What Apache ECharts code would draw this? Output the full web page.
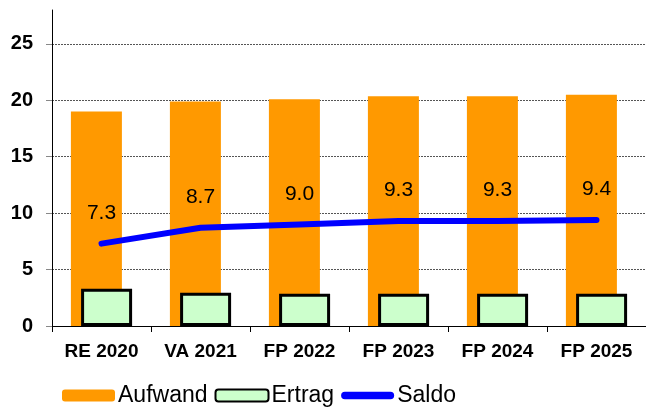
<!DOCTYPE html>
<html>
<head>
<meta charset="utf-8">
<script src="https://cdn.jsdelivr.net/npm/echarts@6/dist/echarts.min.js"></script>
<style>
  html, body { margin: 0; padding: 0; background: #fff; }
  #chart { width: 646px; height: 412px; }
</style>
</head>
<body>
<div id="chart"></div>
<script>
// --- data ---
const categories = ['RE 2020', 'VA 2021', 'FP 2022', 'FP 2023', 'FP 2024', 'FP 2025'];
const aufwand = [19.0, 19.9, 20.1, 20.35, 20.35, 20.5];
const ertrag = [3.3, 2.95, 2.85, 2.85, 2.85, 2.85];
const saldo = [7.3, 8.7, 9.0, 9.3, 9.3, 9.4];

const FONT = 'Arial, "Liberation Sans", sans-serif';
// rounded thick line for the Saldo legend entry
const LINE_ICON = 'path://M4,0 L53,0 A4,4 0 0 1 53,8 L4,8 A4,4 0 0 1 4,0 Z';

const chart = echarts.init(document.getElementById('chart'), null, { renderer: 'canvas' });

chart.setOption({
  backgroundColor: '#fff',
  animation: false,
  grid: { left: 52, top: 10, width: 600, bottom: 86, containLabel: false },
  legend: {
    left: 57,
    bottom: 0,
    itemWidth: 53,
    itemHeight: 12,
    itemGap: 7,
    textStyle: { fontFamily: FONT, fontSize: 23, color: '#000', padding: [0, 0, 0, -2] },
    data: [
      'Aufwand',
      'Ertrag',
      { name: 'Saldo', icon: LINE_ICON, itemStyle: { color: '#0000FF', borderWidth: 0 } }
    ]
  },
  xAxis: {
    type: 'category',
    data: categories,
    axisLine: { lineStyle: { color: '#000', width: 1 } },
    axisTick: { show: true, interval: 0, length: 6, lineStyle: { color: '#000' } },
    axisLabel: { interval: 0, fontFamily: FONT, fontSize: 19, fontWeight: 'bold', color: '#000', margin: 16 }
  },
  yAxis: {
    type: 'value',
    min: 0,
    max: 28,
    interval: 5,
    axisLine: { show: true, lineStyle: { color: '#000', width: 1 } },
    axisTick: { show: true, length: 6, lineStyle: { color: '#888' } },
    axisLabel: { fontFamily: FONT, fontSize: 20, fontWeight: 'bold', color: '#000', margin: 19, showMaxLabel: false },
    splitLine: { show: true, showMaxLine: false, showMinLine: false, lineStyle: { color: '#555', type: [2, 1], width: 1 } }
  },
  series: [
    {
      name: 'Aufwand',
      type: 'bar',
      data: aufwand,
      barWidth: 51,
      barGap: '-80%',
      itemStyle: { color: '#FF9900' }
    },
    {
      name: 'Ertrag',
      type: 'bar',
      data: ertrag,
      barWidth: 51,
      itemStyle: { color: '#CCFFCC', borderColor: '#000', borderWidth: 3 }
    },
    {
      name: 'Saldo',
      type: 'line',
      data: saldo,
      symbol: 'circle',
      symbolSize: 0.1,
      lineStyle: { color: '#0000FF', width: 6, cap: 'round', join: 'round' },
      itemStyle: { color: '#0000FF' },
      label: {
        show: true,
        position: 'top',
        distance: 20,
        fontFamily: FONT,
        fontSize: 21,
        color: '#000',
        formatter: p => p.value.toFixed(1)
      },
      z: 5
    }
  ]
});
</script>
</body>
</html>
